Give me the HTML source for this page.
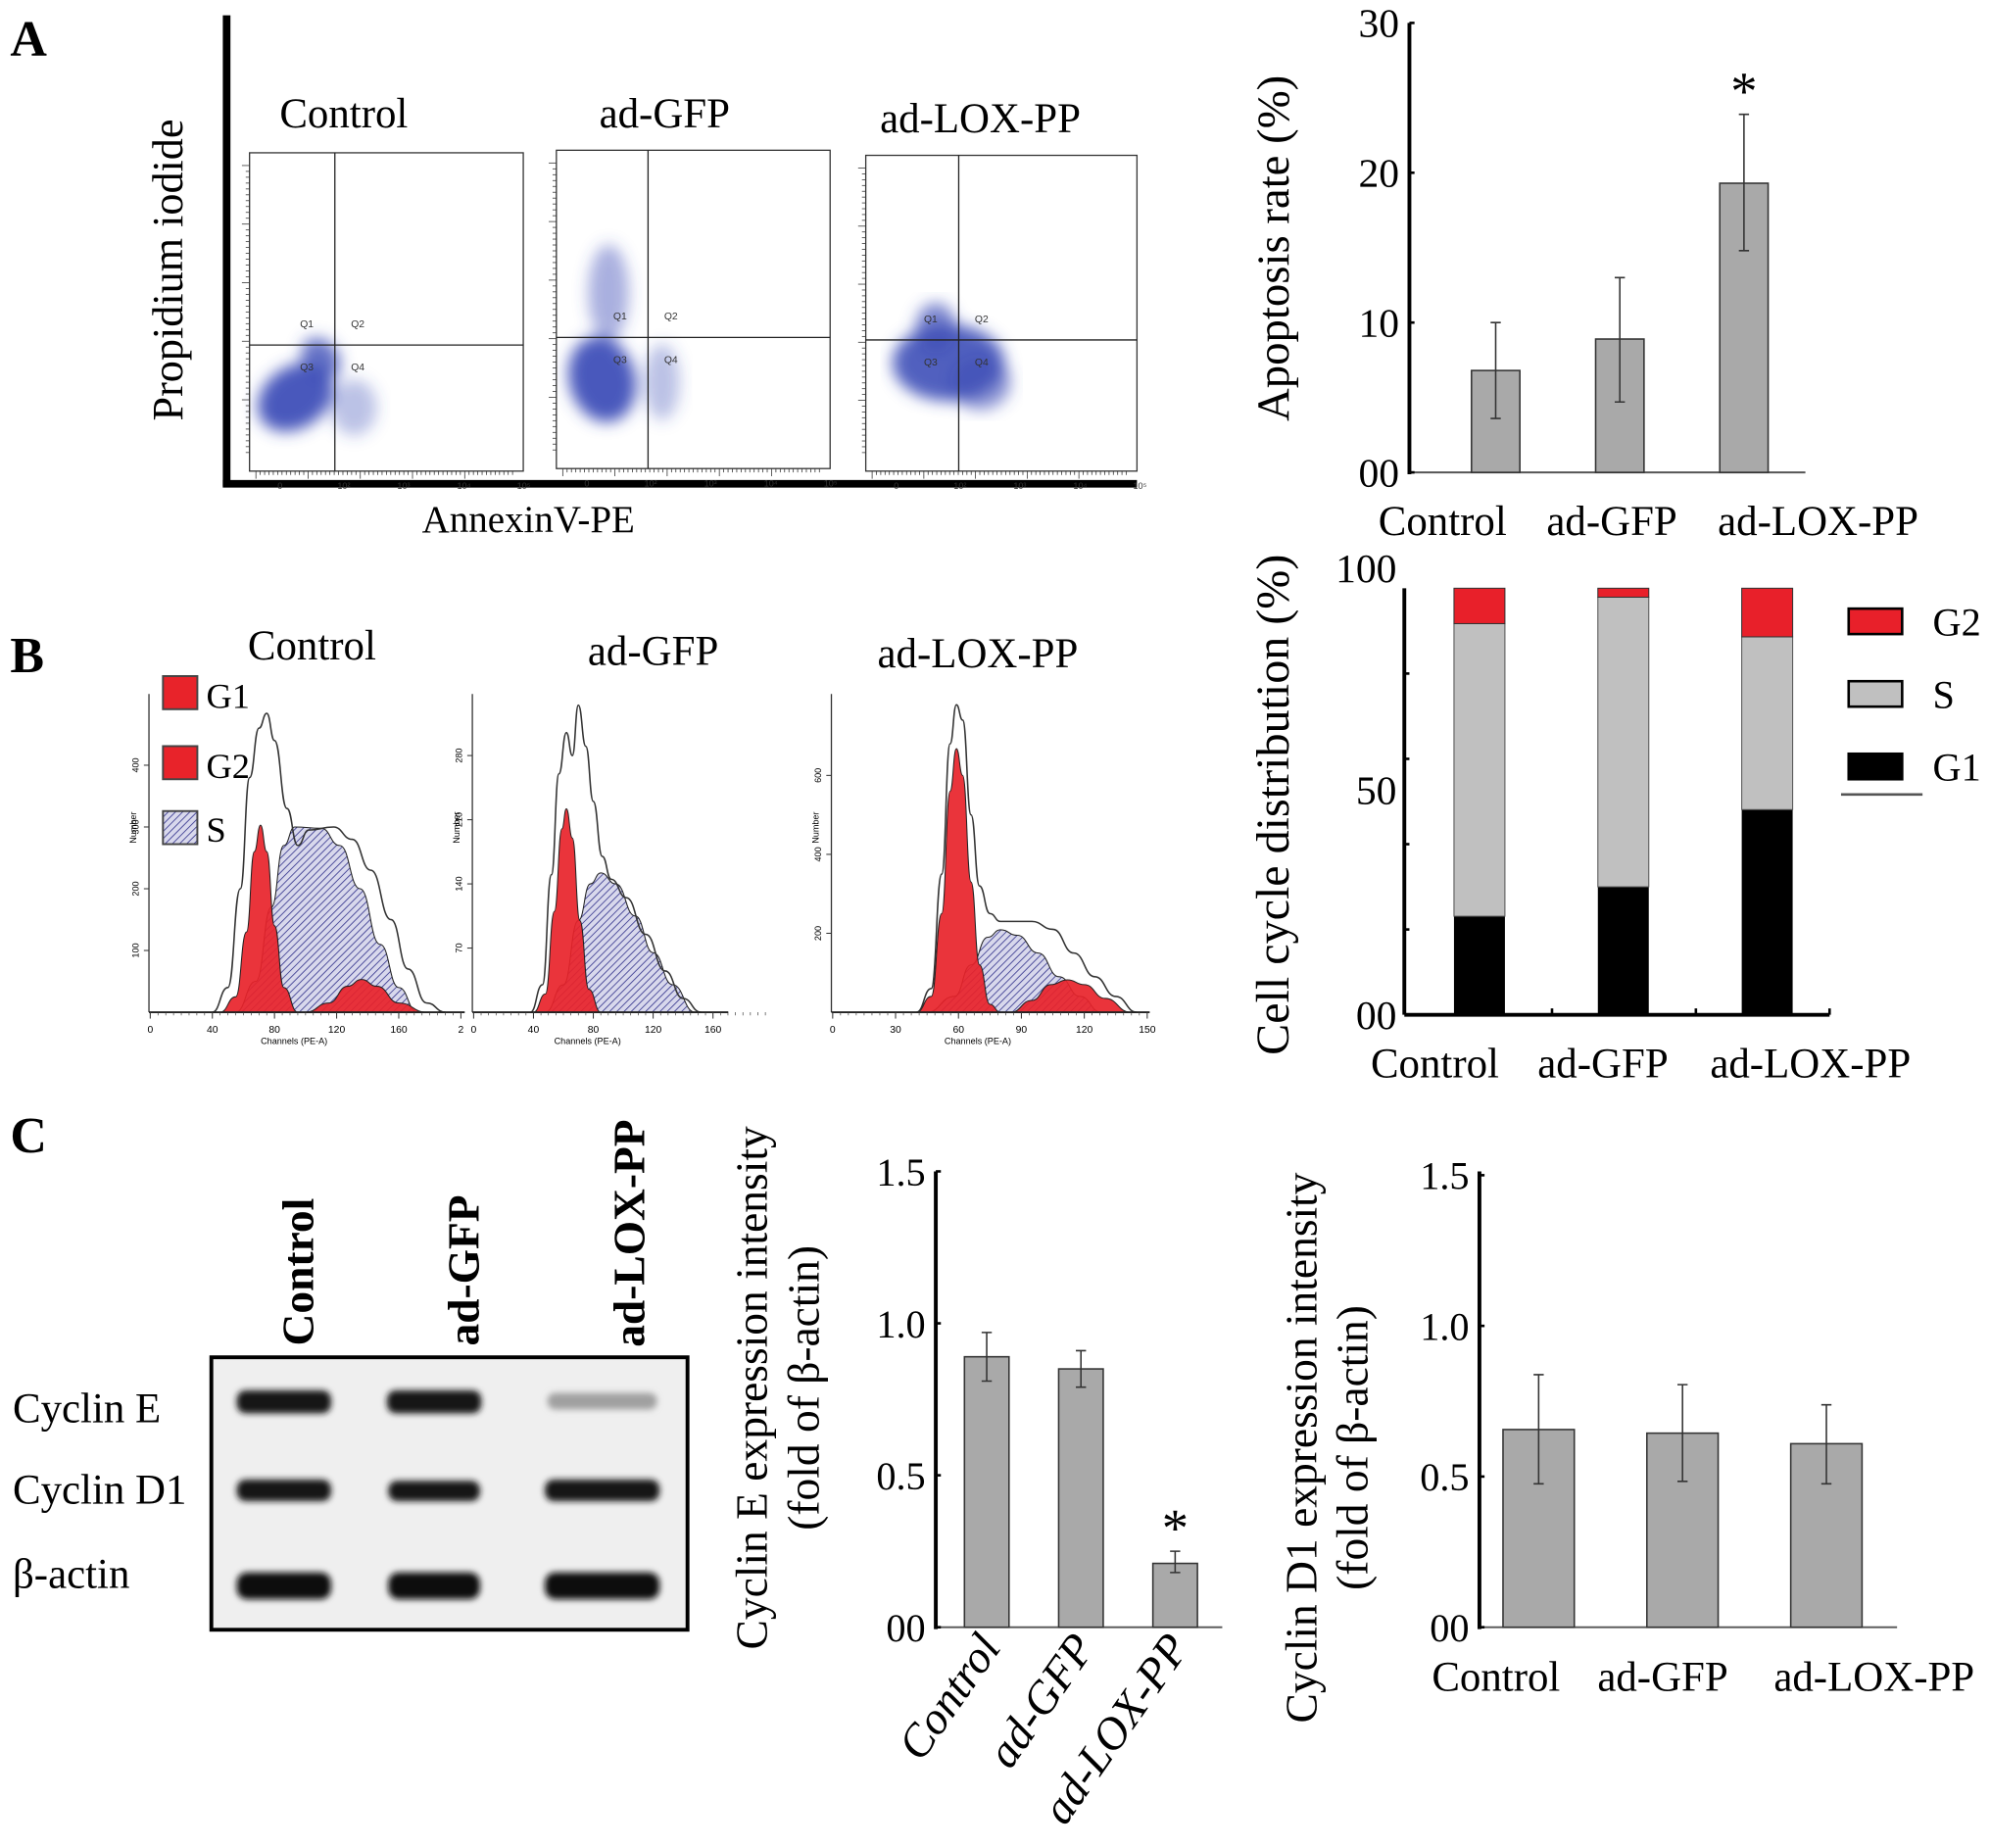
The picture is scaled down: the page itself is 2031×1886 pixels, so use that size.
<!DOCTYPE html>
<html><head><meta charset="utf-8">
<style>
html,body{margin:0;padding:0;background:#fff;}
svg{display:block;font-family:"Liberation Serif",serif;}
</style></head>
<body>
<svg id="fig" width="2031" height="1886" viewBox="0 0 1563 1451.4" xmlns="http://www.w3.org/2000/svg">
<defs>
<pattern id="hatch" patternUnits="userSpaceOnUse" width="4" height="4" patternTransform="rotate(45)">
<rect width="4" height="4" fill="#d8d8ec"/><line x1="0" y1="0" x2="0" y2="4" stroke="#3a3a90" stroke-width="1.3"/>
</pattern>
<filter id="blur3"><feGaussianBlur stdDeviation="6"/></filter>
<filter id="blur1"><feGaussianBlur stdDeviation="2.5"/></filter>
</defs>

<text x="8" y="44" font-size="40" font-weight="bold">A</text>
<text x="8" y="528" font-size="40" font-weight="bold">B</text>
<text x="8" y="905" font-size="40" font-weight="bold">C</text>

<g>
<line x1="178" y1="12" x2="178" y2="382" stroke="#000" stroke-width="6"/>
<line x1="175" y1="380" x2="893" y2="380" stroke="#000" stroke-width="6"/>
<text transform="translate(143,212) rotate(-90)" text-anchor="middle" font-size="34">Propidium iodide</text>
<text x="415" y="418" text-anchor="middle" font-size="30">AnnexinV-PE</text>
<text x="270" y="100" text-anchor="middle" font-size="33">Control</text>
<text x="522" y="100" text-anchor="middle" font-size="33">ad-GFP</text>
<text x="770" y="104" text-anchor="middle" font-size="33">ad-LOX-PP</text>
<g id="flowPlots"></g>
</g>

<g id="apopChart"></g>
<g id="histPlots">
<text x="245" y="518" text-anchor="middle" font-size="33">Control</text>
<text x="513" y="522" text-anchor="middle" font-size="33">ad-GFP</text>
<text x="768" y="524" text-anchor="middle" font-size="33">ad-LOX-PP</text>
<rect x="128" y="531" width="27" height="26" fill="#e8232a" stroke="#444" stroke-width="1.5"/>
<text x="162" y="556" font-size="28">G1</text>
<rect x="128" y="586" width="27" height="26" fill="#e8232a" stroke="#444" stroke-width="1.5"/>
<text x="162" y="611" font-size="28">G2</text>
<rect x="128" y="637" width="27" height="26" fill="url(#hatch)" stroke="#444" stroke-width="1.5"/>
<text x="162" y="661" font-size="28">S</text>
</g>
<g id="stackChart"></g>

<g>
<rect x="166" y="1066" width="374" height="214" fill="#efefef" stroke="#000" stroke-width="3"/>
<g filter="url(#blur1)">
<rect x="186" y="1092" width="74" height="18" rx="7" fill="#151515"/>
<rect x="304" y="1092" width="74" height="18" rx="7" fill="#151515"/>
<rect x="430" y="1094" width="86" height="13" rx="6" fill="#a0a0a0"/>
<rect x="186" y="1162" width="74" height="17" rx="7" fill="#151515"/>
<rect x="305" y="1163" width="72" height="16" rx="7" fill="#151515"/>
<rect x="428" y="1162" width="90" height="17" rx="7" fill="#151515"/>
<rect x="186" y="1235" width="74" height="21" rx="8" fill="#111"/>
<rect x="305" y="1235" width="72" height="21" rx="8" fill="#111"/>
<rect x="428" y="1235" width="90" height="21" rx="8" fill="#111"/>
</g>
<text transform="translate(246,1057) rotate(-90)" font-size="35" font-weight="bold">Control</text>
<text transform="translate(376,1057) rotate(-90)" font-size="35" font-weight="bold">ad-GFP</text>
<text transform="translate(506,1058) rotate(-90)" font-size="35" font-weight="bold">ad-LOX-PP</text>
<text x="10" y="1117" font-size="33">Cyclin E</text>
<text x="10" y="1181" font-size="33">Cyclin D1</text>
<text x="10" y="1247" font-size="33">β-actin</text>
</g>
<g id="cycEChart"></g>
<g id="cycDChart"></g>
</svg>
<script>
const groups = ["Control", "ad-GFP", "ad-LOX-PP"];
const apopValues = [6.8, 8.9, 19.3];
const apopErrLow = [3.6, 4.7, 14.8];
const apopErrHigh = [10.0, 13.0, 23.9];
const apopTicks = ["00", "10", "20", "30"];
const apopTickValues = [0, 10, 20, 30];

const cycleG1 = [23.1, 30.0, 48.1];
const cycleS = [68.6, 67.9, 40.5];
const cycleG2 = [8.3, 2.1, 11.4];
const cycleTicks = ["00", "50", "100"];
const cycleTickValues = [0, 50, 100];

const cycEValues = [0.89, 0.85, 0.21];
const cycEErrLow = [0.81, 0.79, 0.18];
const cycEErrHigh = [0.97, 0.91, 0.25];
const cycDValues = [0.656, 0.644, 0.609];
const cycDErrLow = [0.476, 0.484, 0.476];
const cycDErrHigh = [0.838, 0.805, 0.738];
const exprTicks = ["00", "0.5", "1.0", "1.5"];
const exprTickValues = [0, 0.5, 1.0, 1.5];

const h1G1 = [[45,0],[55,25],[62,130],[67,260],[71,303],[75,260],[80,140],[86,40],[95,0]];
const h1S = [[55,0],[68,50],[78,170],[86,270],[93,300],[110,298],[122,270],[135,200],[148,110],[160,40],[172,0]];
const h1G2 = [[100,0],[115,15],[127,42],[136,53],[146,42],[160,15],[178,0]];
const h1Tot = [[40,0],[50,40],[58,200],[64,380],[70,460],[75,484],[80,440],[88,330],[95,270],[102,295],[118,300],[130,280],[142,230],[155,150],[166,70],[178,15],[190,0]];
const h2G1 = [[40,0],[48,20],[54,110],[59,200],[62,222],[66,190],[71,100],[77,25],[85,0]];
const h2S = [[48,0],[60,30],[70,100],[78,140],[85,152],[95,140],[108,105],[120,65],[133,30],[148,0]];
const h2Tot = [[38,0],[46,30],[52,150],[57,260],[62,305],[66,280],[70,335],[75,290],[80,230],[86,170],[92,145],[102,125],[115,85],[128,45],[140,15],[152,0]];
const h3G1 = [[40,0],[47,40],[52,250],[56,560],[59,668],[62,600],[66,330],[70,120],[75,20],[80,0]];
const h3S = [[45,0],[58,40],[66,120],[74,190],[80,209],[88,195],[98,150],[108,90],[118,40],[128,0]];
const h3G2 = [[85,0],[95,30],[104,70],[112,82],[120,70],[130,35],[142,0]];
const h3Tot = [[40,0],[47,60],[52,350],[56,680],[59,779],[62,740],[66,500],[70,320],[75,250],[80,230],[95,230],[105,210],[115,150],[125,90],[135,40],[145,0]];

const flowTickLabels = ["0", "10²", "10³", "10⁴", "10⁵"];

const NS = "http://www.w3.org/2000/svg";
function mk(parent, tag, attrs, text) {
  const e = document.createElementNS(NS, tag);
  for (const k in attrs) e.setAttribute(k, attrs[k]);
  if (text !== undefined) e.textContent = text;
  parent.appendChild(e);
  return e;
}

(function(){
  const g = document.getElementById("flowPlots");
  const boxes = [
    {x:196,y:120,w:215,h:250,qx:263,qy:271, blobs:[[232,312,32,24,-35,0.95],[252,282,14,18,-35,0.8],[278,320,18,22,0,0.35]]},
    {x:437,y:118,w:215,h:250,qx:509,qy:265, blobs:[[473,298,26,34,-15,0.95],[478,230,16,38,0,0.45],[520,300,14,30,0,0.35]]},
    {x:680,y:122,w:213,h:248,qx:753,qy:267, blobs:[[745,285,44,30,0,0.9],[735,258,16,20,0,0.7],[770,300,24,22,0,0.6]]}
  ];
  boxes.forEach((b, i) => {
    const p = mk(g, "g", {});
    
    
    const bl = mk(p, "g", {filter:"url(#blur3)"});
    b.blobs.forEach(d => {
      const el = mk(bl, "ellipse", {cx:d[0], cy:d[1], rx:d[2], ry:d[3], transform:`rotate(${d[4]} ${d[0]} ${d[1]})`, fill:"#3f4fb8", opacity:d[5]});
      
      
    });
    const fr = mk(p, "rect", {x:b.x, y:b.y, width:b.w, height:b.h, fill:"none", stroke:"#333", "stroke-width":1});
    
    
    mk(p, "line", {x1:b.qx, y1:b.y, x2:b.qx, y2:b.y+b.h, stroke:"#222", "stroke-width":1});
    mk(p, "line", {x1:b.x, y1:b.qy, x2:b.x+b.w, y2:b.qy, stroke:"#222", "stroke-width":1});
    [["Q1",-22,-14],["Q2",18,-14],["Q3",-22,20],["Q4",18,20]].forEach(q => {
      mk(p, "text", {x:b.qx+q[1], y:b.qy+q[2], "font-size":8, "font-family":"Liberation Sans, sans-serif", fill:"#333", "text-anchor":"middle"}, q[0]);
    });
    for (let t = 0; t < 60; t++) {
      const tx = b.x + 5 + t * (b.w - 10) / 60;
      mk(p, "line", {x1:tx, y1:b.y+b.h, x2:tx, y2:b.y+b.h+(t%12===0?6:3), stroke:"#333", "stroke-width":0.6});
    }
    flowTickLabels.forEach((l, k) => {
      mk(p, "text", {x:b.x+22+k*47, y:b.y+b.h+14, "font-size":7, "font-family":"Liberation Sans, sans-serif", fill:"#333"}, l);
    });
    for (let t = 0; t < 50; t++) {
      const ty = b.y + 10 + t * (b.h - 20) / 50;
      mk(p, "line", {x1:b.x, y1:ty, x2:b.x-(t%10===0?6:3), y2:ty, stroke:"#333", "stroke-width":0.6});
    }
  });
})();

function barChart(id, cfg) {
  const g = document.getElementById(id);
  const y = v => cfg.y0 - (v - 0) * (cfg.y0 - cfg.yTop) / cfg.vMax;
  const x = i => cfg.x0 + cfg.step * (i + 0.5);
  const ax = mk(g, "line", {x1:cfg.xAxis, y1:y(cfg.vMax)-cfg.axisExtra, x2:cfg.xAxis, y2:cfg.y0+1.5, stroke:"#000", "stroke-width":3});
  
  
  const xa = mk(g, "line", {x1:cfg.xAxis, y1:cfg.y0, x2:cfg.xEnd, y2:cfg.y0, stroke:"#555", "stroke-width":1.5});
  
  
  cfg.tickValues.forEach((tv, k) => {
    mk(g, "line", {x1:cfg.xAxis, y1:y(tv), x2:cfg.xAxis+4, y2:y(tv), stroke:"#000", "stroke-width":2});
    const t = mk(g, "text", {x:cfg.xAxis-8, y:y(tv)+cfg.tickDy, "text-anchor":"end", "font-size":cfg.tickFont}, cfg.ticks[k]);
    
    
  });
  cfg.values.forEach((v, i) => {
    const r = mk(g, "rect", {x:x(i)-cfg.bw/2, y:y(v), width:cfg.bw, height:cfg.y0-y(v), fill:"#a9a9a9", stroke:"#333", "stroke-width":1.2});
    
    
    const eb = mk(g, "path", {d:`M${x(i)},${y(cfg.lo[i])}V${y(cfg.hi[i])}M${x(i)-4},${y(cfg.lo[i])}H${x(i)+4}M${x(i)-4},${y(cfg.hi[i])}H${x(i)+4}`, stroke:"#333", "stroke-width":1.2, fill:"none"});
    
    
    if (cfg.star && cfg.star[i]) {
      const s = mk(g, "text", {x:x(i), y:y(cfg.hi[i])-cfg.starGap, "text-anchor":"middle", "font-size":42}, "*");
      
      
    }
    if (cfg.rotLabels) {
      const lx = x(i) + 12, ly = cfg.y0 + 16;
      const t = mk(g, "text", {transform:`translate(${lx},${ly}) rotate(-55)`, "text-anchor":"end", "font-size":cfg.labelFont, "font-style":"italic"}, groups[i]);
      
      
    } else {
      const t = mk(g, "text", {x:cfg.labelX[i], y:cfg.labelY, "text-anchor":"middle", "font-size":cfg.labelFont}, groups[i]);
      
      
    }
  });
  cfg.yTitle.forEach((tt, k) => {
    const t = mk(g, "text", {transform:`translate(${tt[1]},${tt[2]}) rotate(-90)`, "text-anchor":"middle", "font-size":cfg.titleFont}, tt[0]);
    
    
  });
}

barChart("apopChart", {y0:371, yTop:18, vMax:30, x0:1126, step:97.5, xAxis:1107, xEnd:1418, axisExtra:0, bw:38,
  values:apopValues, lo:apopErrLow, hi:apopErrHigh, ticks:apopTicks, tickValues:apopTickValues, tickDy:11, tickFont:32,
  star:[0,0,1], starGap:4, labelX:[1133,1266,1428], labelY:420, labelFont:33,
  yTitle:[["Apoptosis rate (%)",1012,195]], titleFont:36});

barChart("cycEChart", {y0:1278, yTop:920, vMax:1.5, x0:738, step:74, xAxis:735, xEnd:960, axisExtra:0, bw:35,
  values:cycEValues, lo:cycEErrLow, hi:cycEErrHigh, ticks:exprTicks, tickValues:exprTickValues, tickDy:11, tickFont:31,
  star:[0,0,1], starGap:4, rotLabels:true, labelFont:36,
  yTitle:[["Cyclin E expression intensity",602,1090],["(fold of β-actin)",643,1090]], titleFont:35});

barChart("cycDChart", {y0:1278, yTop:923, vMax:1.5, x0:1152, step:113, xAxis:1162, xEnd:1490, axisExtra:3, bw:56,
  values:cycDValues, lo:cycDErrLow, hi:cycDErrHigh, ticks:exprTicks, tickValues:exprTickValues, tickDy:11, tickFont:31,
  labelX:[1175,1306,1472], labelY:1328, labelFont:33,
  yTitle:[["Cyclin D1 expression intensity",1034,1137],["(fold of β-actin)",1074,1137]], titleFont:35});

(function(){
  const g = document.getElementById("stackChart");
  const y0 = 797, yTop = 462;
  const y = v => y0 - v * (y0 - yTop) / 100;
  const xc = [1162, 1275, 1388], bw = 40;
  const ax = mk(g, "line", {x1:1103, y1:yTop, x2:1103, y2:y0, stroke:"#000", "stroke-width":3});
  
  
  const xa = mk(g, "line", {x1:1103, y1:y0, x2:1437, y2:y0, stroke:"#000", "stroke-width":3});
  
  
  for (let v = 20; v <= 80; v += 20) mk(g, "line", {x1:1103, y1:y(v), x2:1107, y2:y(v), stroke:"#000", "stroke-width":2});
  [1219, 1332, 1437].forEach(tx => mk(g, "line", {x1:tx, y1:y0, x2:tx, y2:y0-5, stroke:"#000", "stroke-width":2}));
  cycleTickValues.forEach((tv, k) => {
    const t = mk(g, "text", {x:1097, y:y(tv)-(tv===0?-11:(tv===100?5:-2)), "text-anchor":"end", "font-size":32}, cycleTicks[k]);
    
    
  });
  groups.forEach((gr, i) => {
    const a = cycleG1[i], b = a + cycleS[i], c = b + cycleG2[i];
    const r1 = mk(g, "rect", {x:xc[i]-bw/2, y:y(a), width:bw, height:y0-y(a), fill:"#000"});
    
    
    const r2 = mk(g, "rect", {x:xc[i]-bw/2, y:y(b), width:bw, height:y(a)-y(b), fill:"#c0c0c0", stroke:"#555", "stroke-width":0.8});
    
    
    const r3 = mk(g, "rect", {x:xc[i]-bw/2, y:y(c), width:bw, height:y(b)-y(c), fill:"#e8202a", stroke:"#333", "stroke-width":0.8});
    
    
  });
  [[1127,"Control"],[1259,"ad-GFP"],[1422,"ad-LOX-PP"]].forEach(l => {
    const t = mk(g, "text", {x:l[0], y:846, "text-anchor":"middle", "font-size":33}, l[1]);
    
    
  });
  const tt = mk(g, "text", {transform:"translate(1012,632) rotate(-90)", "text-anchor":"middle", "font-size":37}, "Cell cycle distribution (%)");
  
  
  [["G2","#e8202a",478],["S","#c0c0c0",535],["G1","#000",592]].forEach(l => {
    const s = mk(g, "rect", {x:1452, y:l[2], width:42, height:20, fill:l[1], stroke:"#000", "stroke-width":2});
    
    
    const t = mk(g, "text", {x:1518, y:l[2]+21, "font-size":31}, l[0]);
    
    
  });
  mk(g, "line", {x1:1446, y1:624, x2:1510, y2:624, stroke:"#555", "stroke-width":2});
})();

(function(){
  const g = document.getElementById("histPlots");
  const panels = [
    {ax:117, x0:118, sx:1.22, sy:0.485, xEnd:365, ticks:[0,40,80,120,160,200], tl:["0","40","80","120","160","2"], yt:[100,200,300,400], comps:[[h1S,"url(#hatch)"],[h1G1,"#e8232a"],[h1G2,"#e8232a"]], tot:h1Tot},
    {ax:371, x0:372, sx:1.175, sy:0.72, xEnd:572, ticks:[0,40,80,120,160], tl:["0","40","80","120","160"], yt:[70,140,210,280], comps:[[h2S,"url(#hatch)"],[h2G1,"#e8232a"]], tot:h2Tot},
    {ax:653, x0:654, sx:1.647, sy:0.31, xEnd:903, ticks:[0,30,60,90,120,150], tl:["0","30","60","90","120","150"], yt:[200,400,600], comps:[[h3S,"url(#hatch)"],[h3G1,"#e8232a"],[h3G2,"#e8232a"]], tot:h3Tot}
  ];
  const yb = 795;
  panels.forEach((p, i) => {
    const pg = mk(g, "g", {});
    
    
    const X = c => p.x0 + c * p.sx, Y = n => yb - n * p.sy;
    function smooth(pts) {
      let d = `M${X(pts[0][0])},${Y(pts[0][1])}`;
      for (let k = 1; k < pts.length; k++) {
        const a = pts[k-1], b = pts[k], mx = (X(a[0]) + X(b[0])) / 2;
        d += `C${mx},${Y(a[1])} ${mx},${Y(b[1])} ${X(b[0])},${Y(b[1])}`;
      }
      return d;
    }
    p.comps.forEach((c, k) => {
      const el = mk(pg, "path", {d:smooth(c[0]) + "Z", fill:c[1], stroke:"#222", "stroke-width":0.8, "fill-opacity":k===0?1:0.92});
      
      
    });
    const tl = mk(pg, "path", {d:smooth(p.tot), fill:"none", stroke:"#333", "stroke-width":1.2});
    
    
    mk(pg, "line", {x1:p.ax, y1:545, x2:p.ax, y2:yb, stroke:"#333", "stroke-width":1});
    mk(pg, "line", {x1:p.ax, y1:yb, x2:p.xEnd, y2:yb, stroke:"#222", "stroke-width":1.5});
    p.ticks.forEach((t, k) => {
      mk(pg, "line", {x1:X(t), y1:yb, x2:X(t), y2:yb+5, stroke:"#333", "stroke-width":0.8});
      mk(pg, "text", {x:X(t), y:yb+16, "text-anchor":"middle", "font-size":8, "font-family":"Liberation Sans, sans-serif"}, p.tl[k]);
    });
    for (let t = 0; t < 40; t++) mk(pg, "line", {x1:X(t*5*(p.ticks[1]/40)), y1:yb, x2:X(t*5*(p.ticks[1]/40)), y2:yb+2.5, stroke:"#333", "stroke-width":0.5});
    p.yt.forEach(v => {
      mk(pg, "line", {x1:p.ax, y1:Y(v), x2:p.ax-4, y2:Y(v), stroke:"#333", "stroke-width":0.8});
      mk(pg, "text", {transform:`translate(${p.ax-8},${Y(v)}) rotate(-90)`, "text-anchor":"middle", "font-size":7, "font-family":"Liberation Sans, sans-serif"}, String(v));
    });
    mk(pg, "text", {transform:`translate(${p.ax-10},${(545+yb)/2-20}) rotate(-90)`, "text-anchor":"middle", "font-size":7, "font-family":"Liberation Sans, sans-serif"}, "Number");
    mk(pg, "text", {x:(p.ax+p.xEnd)/2 - 10, y:yb+25, "text-anchor":"middle", "font-size":7, "font-family":"Liberation Sans, sans-serif"}, "Channels (PE-A)");
  });
})();
</script>
</body></html>
